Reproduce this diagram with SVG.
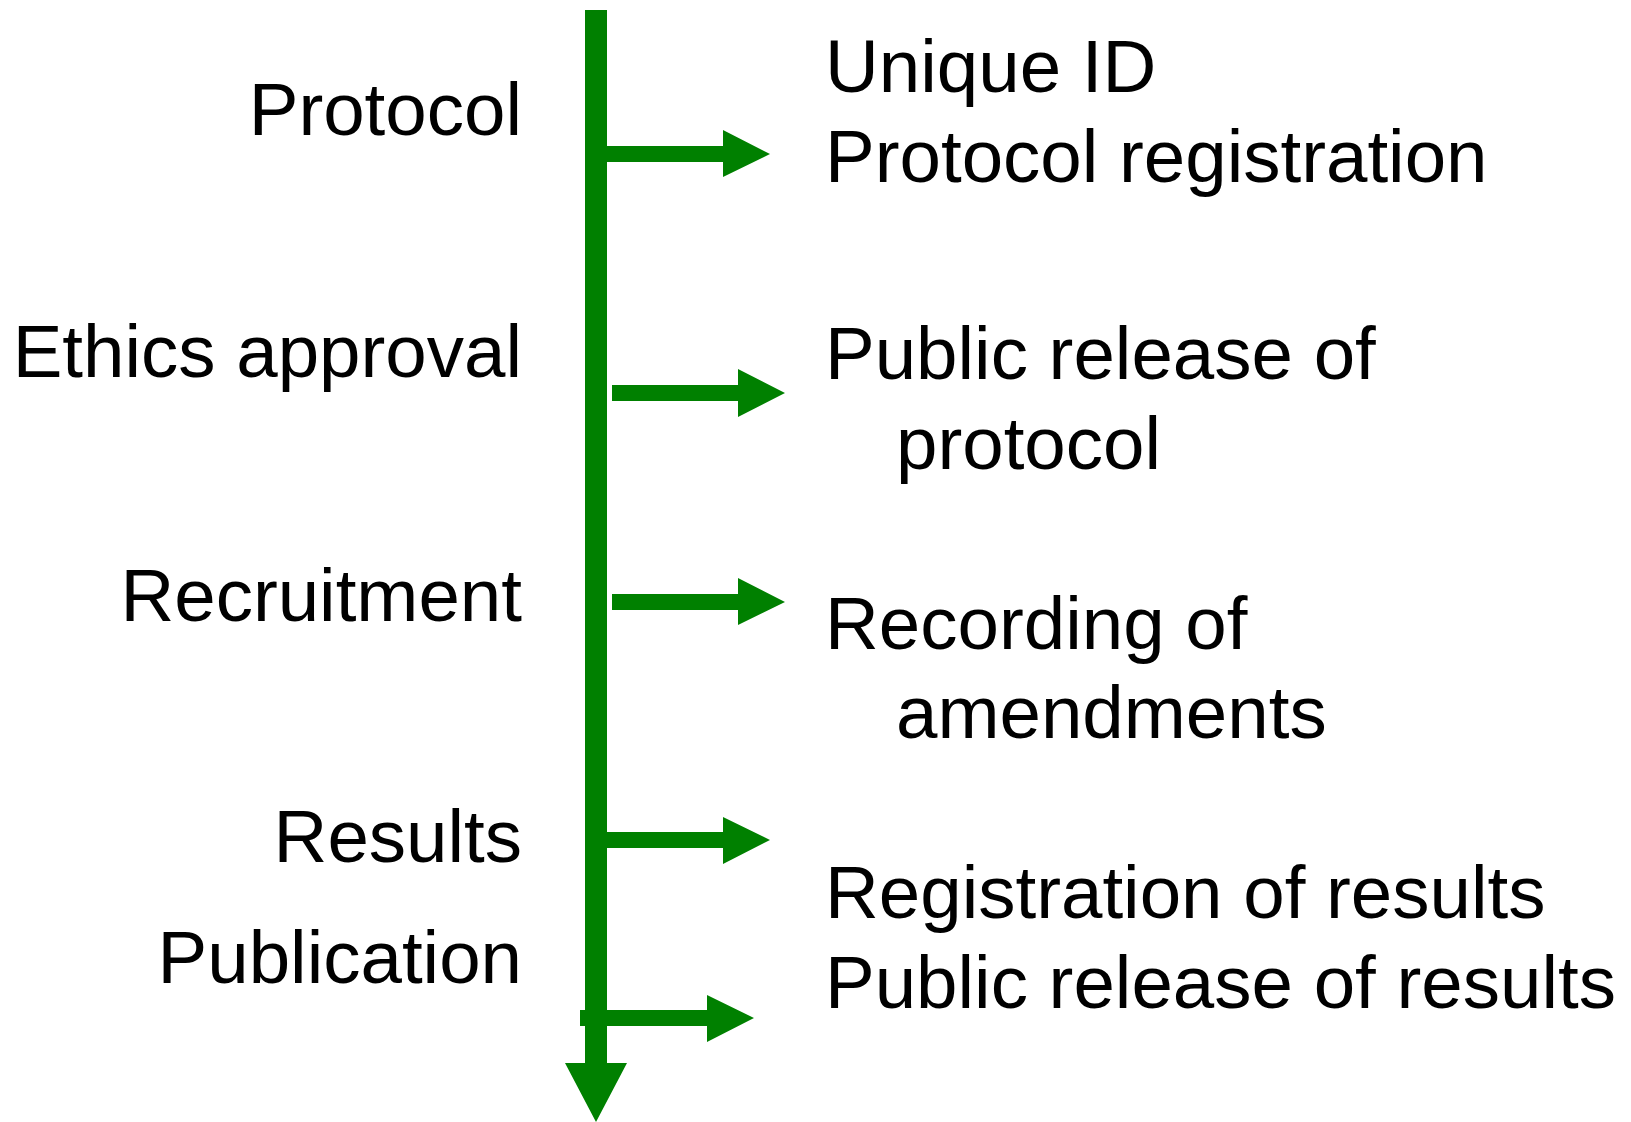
<svg xmlns="http://www.w3.org/2000/svg" width="1631" height="1122" viewBox="0 0 1631 1122">
<style>
  .bg { fill: #ffffff; }
  .conn { fill: #008000; stroke: none; }
  .lbl { font-family: "Liberation Sans", Arial, sans-serif; font-size: 74.5px; fill: #000000; }
  .left { text-anchor: end; }
</style>
<rect class="bg" x="0" y="0" width="1631" height="1122"/>
<g id="connectors">
  <path id="timeline" class="conn" d="M585,10 H607 V1063 H627 L596,1122 L565,1063 H585 Z"/>
  <path id="arrow-protocol" class="conn" d="M600,146 H723 V130 L770,154 L723,177 V162 H600 Z"/>
  <path id="arrow-ethics" class="conn" d="M612,385 H738 V369 L785,393 L738,417 V401 H612 Z"/>
  <path id="arrow-recruitment" class="conn" d="M612,594 H738 V578 L785,602 L738,625 V610 H612 Z"/>
  <path id="arrow-results" class="conn" d="M600,832 H723 V817 L770,840 L723,864 V848 H600 Z"/>
  <path id="arrow-publication" class="conn" d="M580,1010 H707 V995 L754,1018 L707,1042 V1026 H580 Z"/>
</g>
<g id="stage-protocol"><text class="lbl left" x="522" y="135">Protocol</text></g>
<g id="stage-ethics"><text class="lbl left" x="522" y="377">Ethics approval</text></g>
<g id="stage-recruitment"><text class="lbl left" x="522" y="621">Recruitment</text></g>
<g id="stage-results"><text class="lbl left" x="522" y="862">Results</text></g>
<g id="stage-publication"><text class="lbl left" x="522" y="983">Publication</text></g>
<g id="out-registration">
  <text class="lbl" x="825" y="92">Unique ID</text>
  <text class="lbl" x="825" y="182">Protocol registration</text>
</g>
<g id="out-release-protocol">
  <text class="lbl" x="825" y="379">Public release of</text>
  <text class="lbl" x="896" y="469">protocol</text>
</g>
<g id="out-amendments">
  <text class="lbl" x="825" y="649">Recording of</text>
  <text class="lbl" x="896" y="738">amendments</text>
</g>
<g id="out-results">
  <text class="lbl" x="825" y="918">Registration of results</text>
  <text class="lbl" x="825" y="1008">Public release of results</text>
</g>
</svg>
